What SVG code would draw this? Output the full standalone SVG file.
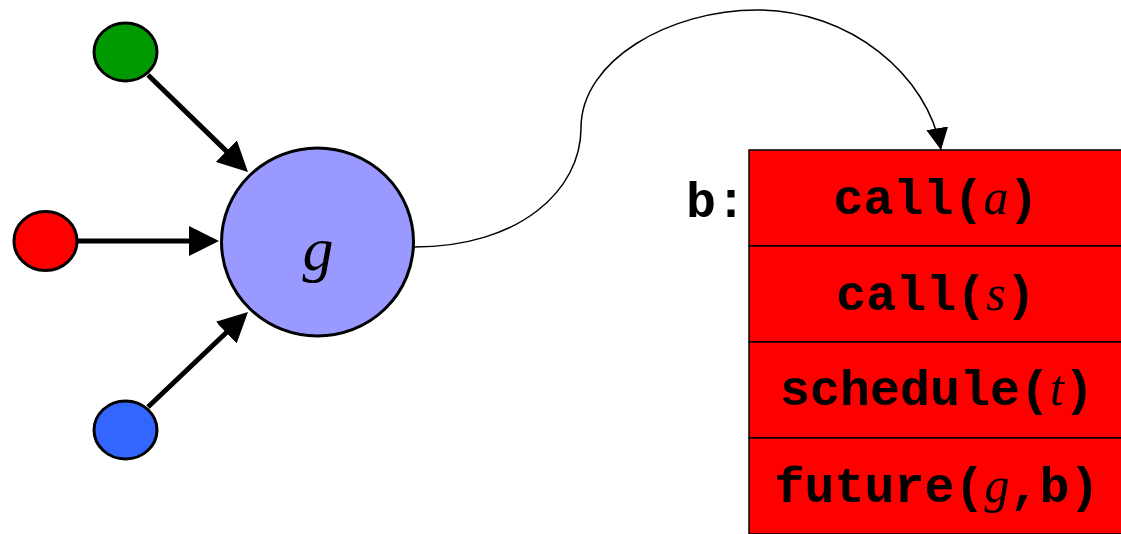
<svg xmlns="http://www.w3.org/2000/svg" width="1121" height="534" viewBox="0 0 1121 534">
<style>
.src{stroke:#000;stroke-width:3}
.thick{stroke:#000;stroke-width:5;fill:none}
.thin{stroke:#000;stroke-width:1.5;fill:none}
.row{fill:#FF0000;stroke:#000;stroke-width:1.5}
.mono{font-family:"Liberation Mono","Courier New",monospace;font-weight:bold;font-size:50px;fill:#000}
.var{font-family:"Liberation Serif","Times New Roman",serif;font-style:italic;font-weight:normal}
</style>
<defs>
<marker id="bigArrow" markerUnits="userSpaceOnUse" markerWidth="30" markerHeight="30" viewBox="0 0 30 30" refX="10" refY="15" orient="auto">
<path d="M0,0 L30,15 L0,30 z" fill="#000"/>
</marker>
<marker id="smallArrow" markerUnits="userSpaceOnUse" markerWidth="22" markerHeight="22" viewBox="0 0 22 22" refX="22" refY="11" orient="auto">
<path d="M0,0 L22,11 L0,22 z" fill="#000"/>
</marker>
</defs>
<g id="connectors">
<line class="thick" x1="148" y1="75" x2="233.6" y2="158.1" marker-end="url(#bigArrow)"/>
<line class="thick" x1="78" y1="241" x2="199" y2="241" marker-end="url(#bigArrow)"/>
<line class="thick" x1="148" y1="407" x2="233.5" y2="325.8" marker-end="url(#bigArrow)"/>
<path class="thin" d="M414,247 C520,247 581,190 581,128 C581,60 670,10 757,10 C850,10 928,75 941,150" marker-end="url(#smallArrow)"/>
</g>
<g id="green"><ellipse class="src" cx="125.5" cy="52" rx="31.5" ry="29" fill="#009900"/></g>
<g id="red"><ellipse class="src" cx="45.5" cy="241" rx="31.5" ry="29.5" fill="#FF0000"/></g>
<g id="blue"><ellipse class="src" cx="125.5" cy="430" rx="31.5" ry="29" fill="#3366FF"/></g>
<g id="g-node">
<ellipse class="src" cx="317.5" cy="242" rx="96" ry="94" fill="#9999FF"/>
<text x="318" y="270" text-anchor="middle" font-family="'Liberation Serif','Times New Roman',serif" font-style="italic" font-size="62" fill="#000">g</text>
</g>
<g id="b-stack">
<text class="mono" x="746" y="217" text-anchor="end">b:</text>
<rect class="row" x="749" y="150" width="376" height="96"/>
<rect class="row" x="749" y="246" width="376" height="96"/>
<rect class="row" x="749" y="342" width="376" height="96"/>
<rect class="row" x="749" y="438" width="376" height="96"/>
<text class="mono" x="936" y="214" text-anchor="middle">call(<tspan class="var">a</tspan>)</text>
<text class="mono" x="936" y="310" text-anchor="middle">call(<tspan class="var">s</tspan>)</text>
<text class="mono" x="937" y="405" text-anchor="middle">schedule(<tspan class="var">t</tspan>)</text>
<text class="mono" x="937" y="502" text-anchor="middle">future(<tspan class="var">g</tspan>,b)</text>
</g>
</svg>
